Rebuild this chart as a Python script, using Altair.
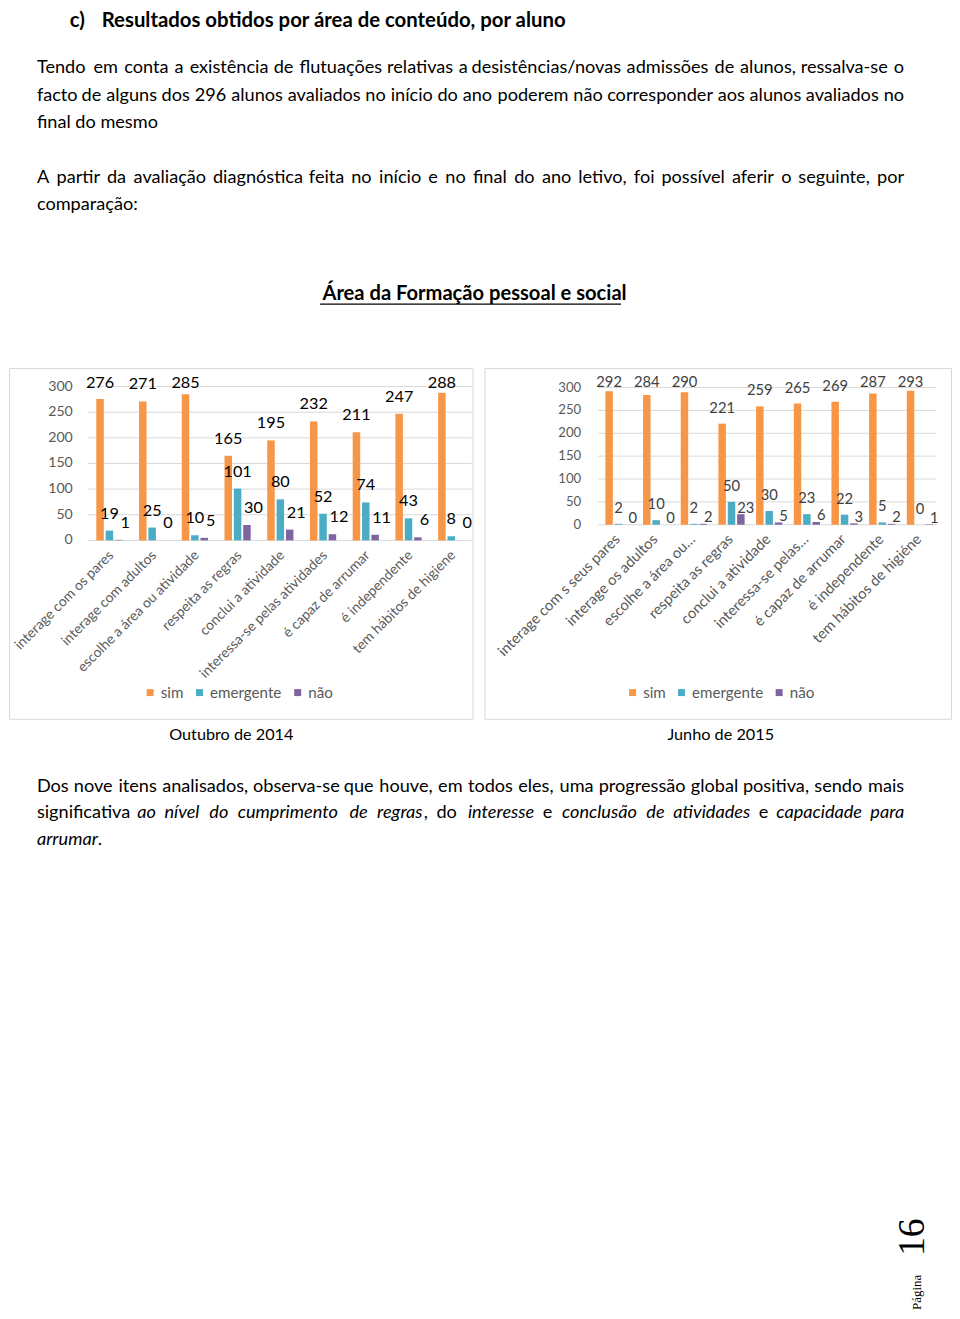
import unicodedata
import altair as alt
import pandas as pd

BODY = "Lato"
CHART = "Lato"
SERIF = "Liberation Serif"

series = ["sim", "emergente", "não"]
colors = ["#F79646", "#4BACC6", "#8064A2"]
ticks = [0, 50, 100, 150, 200, 250, 300]

cats1 = ["interage com os pares", "interage com adultos", "escolhe a área ou atividade",
         "respeita as regras", "conclui a atividade", "interessa-se pelas atividades",
         "é capaz de arrumar", "é independente", "tem hábitos de higiene"]
sim1 = [276, 271, 285, 165, 195, 232, 211, 247, 288]
emerg1 = [19, 25, 10, 101, 80, 52, 74, 43, 8]
nao1 = [1, 0, 5, 30, 21, 12, 11, 6, 0]

cats2 = ["interage com s seus pares", "interage os adultos", "escolhe a área ou…",
         "respeita as regras", "conclui a atividade", "interessa-se pelas…",
         "é capaz de arrumar", "é independente", "tem hábitos de higiéne"]
sim2 = [292, 284, 290, 221, 259, 265, 269, 287, 293]
emerg2 = [2, 10, 2, 50, 30, 23, 22, 5, 0]
nao2 = [0, 0, 2, 23, 5, 6, 3, 2, 1]

heading_c = "c)"
heading = "Resultados obtidos por área de conteúdo, por aluno"
para1 = ["Tendo em conta a existência de flutuações relativas a desistências/novas admissões de alunos, ressalva-se o",
         "facto de alguns dos 296 alunos avaliados no início do ano poderem não corresponder aos alunos avaliados no",
         "final do mesmo"]
para2 = ["A partir da avaliação diagnóstica feita no início e no final do ano letivo, foi possível aferir o seguinte, por",
         "comparação:"]
title = "Área da Formação pessoal e social"
caption1 = "Outubro de 2014"
caption2 = "Junho de 2015"
para3_l1 = [("Dos nove itens analisados, observa-se que houve, em todos eles, uma progressão global positiva, sendo mais", False)]
para3_l2 = [("significativa ", False), ("ao nível do cumprimento de regras", True), (", do ", False),
            ("interesse", True), (" e ", False), ("conclusão de atividades", True), (" e ", False),
            ("capacidade para", True)]
para3_l3 = [("arrumar", True), (".", False)]
page_word = "Página"
page_num = "16"

LEFT, RIGHT = 28, 898
BFS = 18.2

# approximate advance widths (em) of the Lato face, used only to space justified words
LATO = dict(zip("abcdefghijklmnopqrstuvwxyz",
                [.49, .56, .46, .56, .52, .32, .50, .56, .24, .24, .50, .24, .84, .56, .56, .56,
                 .56, .36, .42, .35, .56, .50, .76, .49, .50, .44]))
LATO.update(zip("ABCDEFGHIJKLMNOPQRSTUVWXYZ",
                [.67, .64, .68, .74, .55, .54, .72, .75, .28, .38, .65, .49, .90, .75, .79, .60,
                 .79, .62, .52, .57, .72, .67, 1.0, .65, .62, .60]))
LATO.update({d: .58 for d in "0123456789"})
LATO.update({" ": .26, ",": .22, ".": .22, ":": .24, "/": .38, "-": .34, "…": .80})


def tw(s, fs, italic=False):
    tot = 0.0
    for ch in s:
        base = unicodedata.normalize("NFD", ch)[0]
        tot += LATO.get(base, .55)
    return tot * fs * (0.97 if italic else 1.0)


def split_words(runs):
    words = [[]]
    for text, it in runs:
        parts = text.split(" ")
        for k, p in enumerate(parts):
            if k > 0:
                words.append([])
            if p:
                words[-1].append((p, it))
    return [w for w in words if w]


def place_line(runs, y, fs, justify):
    items = []
    if not justify:
        x = LEFT
        for t, it in runs:
            items.append(dict(t=t, x=x, y=y, italic=it, align="left", fs=fs))
            x += tw(t, fs, it)
        return items
    words = split_words(runs)
    ww = [sum(tw(t, fs, it) for t, it in w) for w in words]
    n = len(words)
    gap = (RIGHT - LEFT - sum(ww)) / (n - 1)
    half = (n + 1) // 2
    x = LEFT
    for i in range(half):
        cx = x
        for t, it in words[i]:
            items.append(dict(t=t, x=cx, y=y, italic=it, align="left", fs=fs))
            cx += tw(t, fs, it)
        x += ww[i] + gap
    r = RIGHT
    for i in range(n - 1, half - 1, -1):
        cr = r
        for t, it in reversed(words[i]):
            items.append(dict(t=t, x=cr, y=y, italic=it, align="right", fs=fs))
            cr -= tw(t, fs, it)
        r -= ww[i] + gap
    return items


def text_layers(items):
    groups = {}
    for d in items:
        key = (d["fs"], d.get("bold", False), d["italic"], d["align"], d.get("font", BODY),
               d.get("angle", 0))
        groups.setdefault(key, []).append(d)
    layers = []
    for (fs, bold, it, align, font, angle), rows in groups.items():
        kw = dict(align=align, baseline="alphabetic", font=font, fontSize=fs,
                  fontWeight="bold" if bold else "normal",
                  fontStyle="italic" if it else "normal", color="#000000")
        if angle:
            kw["angle"] = angle
        df = pd.DataFrame({"t": [r["t"] for r in rows], "x": [r["x"] for r in rows],
                           "y": [r["y"] for r in rows]})
        layers.append(alt.Chart(df).mark_text(**kw).encode(
            x=alt.X("x:Q", scale=None, axis=None), y=alt.Y("y:Q", scale=None, axis=None),
            text="t:N"))
    return layers


def long_df(cats, a, b, c):
    rows = []
    for i, cat in enumerate(cats):
        for s, v in zip(series, (a[i], b[i], c[i])):
            rows.append({"cat": cat, "series": s, "value": v})
    return pd.DataFrame(rows)


def panel(cats, a, b, c, o):
    df = long_df(cats, a, b, c)
    xs = alt.Scale(domain=cats, range=o["xr"], paddingInner=o["pi"], paddingOuter=o["pi"] / 2)
    ys = alt.Scale(domain=[0, 300], range=o["yr"], nice=False)
    oscale = alt.Scale(domain=series, paddingInner=o["qi"], paddingOuter=0)
    X = alt.X("cat:N", scale=xs, axis=None)
    XO = alt.XOffset("series:N", scale=oscale)
    tdf = pd.DataFrame({"v": ticks})
    grid = alt.Chart(tdf).mark_rule(color="#d9d9d9", strokeWidth=1).encode(
        y=alt.Y("v:Q", scale=ys, axis=None), x=alt.value(o["gx"][0]), x2=alt.value(o["gx"][1]))
    tl = alt.Chart(tdf).mark_text(align="right", baseline="middle", font=CHART,
                                  fontSize=o["tfs"], color="#595959").encode(
        y=alt.Y("v:Q", scale=ys, axis=None), x=alt.value(o["tx"]), text="v:Q")
    bars = alt.Chart(df).mark_bar().encode(
        x=X, xOffset=XO, y=alt.Y("value:Q", scale=ys, axis=None),
        color=alt.Color("series:N", scale=alt.Scale(domain=series, range=colors),
                        legend=alt.Legend(orient="none", legendX=o["lx"], legendY=o["ly"],
                                          direction="horizontal", title=None,
                                          symbolType="square", symbolSize=49,
                                          symbolStrokeWidth=0, labelFont=CHART,
                                          labelFontSize=15.2, labelColor="#595959",
                                          columnPadding=o["cp"], labelOffset=3, padding=0)))
    labs = []
    for s, dx, dy in o["lab"]:
        labs.append(
            alt.Chart(df).transform_filter(alt.datum.series == s)
            .transform_calculate(ly=f"min(datum.value, {o['cap']})")
            .mark_text(align="center", baseline="alphabetic", dx=dx, dy=dy, font=CHART,
                       fontSize=o["dfs"], color=o["dcol"])
            .encode(x=X, xOffset=XO, y=alt.Y("ly:Q", scale=ys, axis=None), text="value:Q"))
    xl = alt.Chart(pd.DataFrame({"cat": cats})).mark_text(
        angle=315, align="right", baseline="middle", font=CHART, fontSize=o["xfs"],
        color="#595959").encode(
        x=alt.X("cat:N", scale=xs, axis=None, bandPosition=o["bp"]),
        y=alt.value(o["xly"]), text="cat:N")
    return alt.layer(grid, tl, bars, *labs, xl).properties(
        width=o["w"], height=352,
        view=alt.ViewBackground(stroke="#d9d9d9", strokeWidth=1))


o1 = dict(w=465, xr=[79.3, 465.1], yr=[173, 18.7], pi=0.387, qi=0.2, gx=(79, 464),
          tx=64, tfs=14.2, dfs=16.3, dcol="#000000", cap=274,
          lab=[("sim", 0, -12), ("emergente", 0, -12), ("não", 6.5, -12)],
          xfs=14.0, xly=186, bp=0.58, lx=134, ly=318, cp=8.5)
o2 = dict(w=468, xr=[113.9, 454.1], yr=[157.3, 19.7], pi=0.39, qi=0.23, gx=(114, 453),
          tx=97, tfs=13.2, dfs=14.8, dcol="#404040", cap=278,
          lab=[("sim", 0, -11), ("emergente", 0, -11), ("não", 5, -1.5)],
          xfs=14.8, xly=170, bp=0.55, lx=141, ly=318, cp=8)

p1 = panel(cats1, sim1, emerg1, nao1, o1)
p2 = panel(cats2, sim2, emerg2, nao2, o2)
middle = alt.hconcat(p1, p2, spacing=10).resolve_scale(color="independent").resolve_legend(color="independent")

# ---- page text above the charts
top_items = [dict(t=heading_c, x=61, y=16, fs=20.4, bold=True, italic=False, align="left"),
             dict(t=heading, x=93, y=16, fs=20.4, bold=True, italic=False, align="left")]
for line, y in zip(para1, [62, 90, 117]):
    top_items += place_line([(line, False)], y, BFS, justify=len(line) > 60)
for line, y in zip(para2, [172, 200]):
    top_items += place_line([(line, False)], y, BFS, justify=len(line) > 60)
top_items.append(dict(t=title, x=467, y=290, fs=20.2, bold=True, italic=False, align="center"))
underline = alt.Chart(pd.DataFrame({"t": [title]})).mark_rule(color="#000000", strokeWidth=1.3).encode(
    x=alt.value(312), x2=alt.value(614), y=alt.value(294))
top = alt.layer(*text_layers(top_items), underline).properties(width=944, height=356)

# ---- page text below the charts
bot_items = [dict(t=caption1, x=223, y=19, fs=16.3, italic=False, align="center"),
             dict(t=caption2, x=714, y=19, fs=16.3, italic=False, align="center")]
bot_items += place_line(para3_l1, 71, BFS, justify=True)
bot_items += place_line(para3_l2, 98, BFS, justify=True)
bot_items += place_line(para3_l3, 125, BFS, justify=False)
bot_items.append(dict(t=page_word, x=915, y=591, fs=13, italic=False, align="left",
                      font=SERIF, angle=270))
bot_items.append(dict(t=page_num, x=918, y=537, fs=38, italic=False, align="left",
                      font=SERIF, angle=270))
bottom = alt.layer(*text_layers(bot_items)).properties(width=944, height=592)

chart = alt.vconcat(top, middle, bottom, spacing=0).properties(padding=0).configure_view(
    stroke="transparent")

chart.save("out.html", embed_options={"renderer": "svg", "actions": False})
